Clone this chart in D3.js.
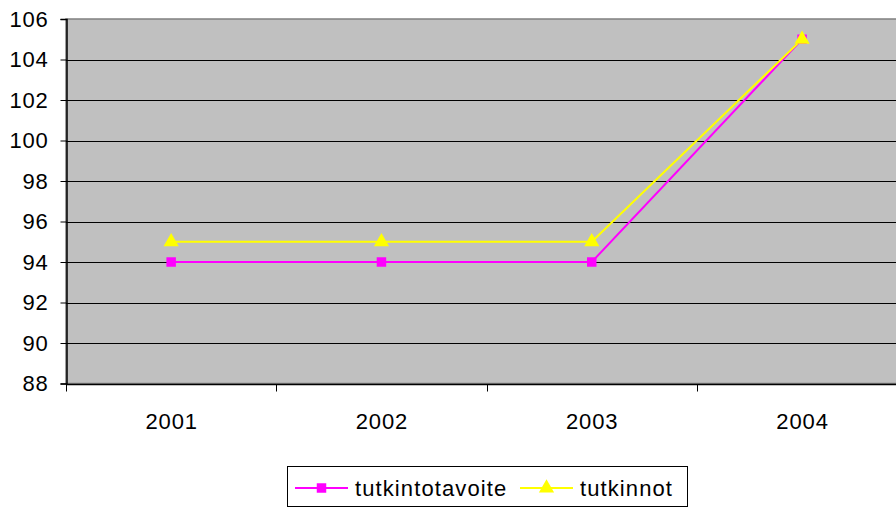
<!DOCTYPE html>
<html>
<head>
<meta charset="utf-8">
<script src="https://cdn.jsdelivr.net/npm/d3@7"></script>
<style>
  body { margin: 0; background: #fff; }
  svg { display: block; font-family: "Liberation Sans", Arial, sans-serif; }
</style>
</head>
<body>
<div id="chart"></div>
<script>
// chart values
const years = ['2001', '2002', '2003', '2004'];
const tavoite = [94, 94, 94, 105];    // tutkintotavoite
const tutkinnot = [95, 95, 95, 105];  // tutkinnot
const yTicks = [88, 90, 92, 94, 96, 98, 100, 102, 104, 106];

const width = 896, height = 507;
const margin = {top: 19, left: 66, bottom: 123};
const plotRight = 66 + 210.3 * 4;

const svg = d3.select('#chart').append('svg')
    .attr('width', width)
    .attr('height', height);

const x = d3.scaleBand()
    .domain(years)
    .range([margin.left, plotRight]);

const y = d3.scaleLinear()
    .domain([88, 106])
    .range([height - margin.bottom - 0.5, margin.top]);

// plot background
svg.append('rect')
    .attr('x', margin.left)
    .attr('y', margin.top)
    .attr('width', plotRight - margin.left)
    .attr('height', y(88) - margin.top)
    .attr('fill', '#c0c0c0')
    .attr('stroke', '#808080')
    .attr('stroke-width', 1.5);

// gridlines
svg.append('g')
  .selectAll('line')
  .data(yTicks.filter(d => d !== 88 && d !== 106))
  .enter().append('line')
    .attr('x1', margin.left)
    .attr('x2', plotRight)
    .attr('y1', d => Math.round(y(d)) + 0.5)
    .attr('y2', d => Math.round(y(d)) + 0.5)
    .attr('stroke', '#000')
    .attr('stroke-width', 1);

// y axis
const yAxis = svg.append('g')
    .attr('transform', `translate(${margin.left + 0.5},0)`)
    .call(d3.axisLeft(y).tickValues(yTicks).tickSize(6).tickPadding(12));
yAxis.select('.domain').attr('stroke', '#000').attr('stroke-width', 1.5);
yAxis.selectAll('.tick line').attr('stroke', '#000');
yAxis.selectAll('.tick text')
    .attr('fill', '#000')
    .style('font-size', '22px')
    .style('letter-spacing', '0.8px')
    .style('font-family', '"Liberation Sans", Arial, sans-serif');

// x axis with ticks at category boundaries
const xg = svg.append('g')
    .attr('transform', `translate(0,${Math.round(y(88)) + 0.5})`);
xg.append('line')
    .attr('x1', margin.left)
    .attr('x2', plotRight)
    .attr('stroke', '#000')
    .attr('stroke-width', 1.5);
xg.selectAll('line.tk')
  .data(years)
  .enter().append('line')
    .attr('class', 'tk')
    .attr('x1', d => Math.round(x(d)) + 0.5)
    .attr('x2', d => Math.round(x(d)) + 0.5)
    .attr('y1', 0)
    .attr('y2', 7)
    .attr('stroke', '#000');
xg.selectAll('text')
  .data(years)
  .enter().append('text')
    .attr('x', d => x(d) + x.bandwidth() / 2 + 0.5)
    .attr('y', 44)
    .attr('text-anchor', 'middle')
    .style('font-size', '22px')
    .style('letter-spacing', '0.9px')
    .text(d => d);

const cx = d => x(d) + x.bandwidth() / 2;
const line = d3.line()
    .x((d, i) => cx(years[i]))
    .y(d => y(d));

// tutkintotavoite
svg.append('path')
    .datum(tavoite)
    .attr('d', line)
    .attr('fill', 'none')
    .attr('stroke', '#ff00ff')
    .attr('stroke-width', 2);

// tutkinnot
svg.append('path')
    .datum(tutkinnot)
    .attr('d', line)
    .attr('fill', 'none')
    .attr('stroke', '#ffff00')
    .attr('stroke-width', 2);

const square = d3.symbol().type(d3.symbolSquare).size(90);
const triangle = d3.symbol().type(d3.symbolTriangle).size(100);

svg.append('g').selectAll('path')
  .data(tavoite)
  .enter().append('path')
    .attr('d', square)
    .attr('transform', (d, i) => `translate(${cx(years[i])},${y(d)})`)
    .attr('fill', '#ff00ff');

svg.append('g').selectAll('path')
  .data(tutkinnot)
  .enter().append('path')
    .attr('d', triangle)
    .attr('transform', (d, i) => `translate(${cx(years[i])},${y(d)})`)
    .attr('fill', '#ffff00');

// legend
const lg = svg.append('g');
lg.append('rect')
    .attr('x', 287.5)
    .attr('y', 466.5)
    .attr('width', 400)
    .attr('height', 40)
    .attr('fill', '#fff')
    .attr('stroke', '#000')
    .attr('stroke-width', 1);

const items = [
  {name: 'tutkintotavoite', color: '#ff00ff', sym: square, x: 295},
  {name: 'tutkinnot', color: '#ffff00', sym: triangle, x: 520}
];
const ly = 488;
items.forEach(it => {
  lg.append('line')
      .attr('x1', it.x)
      .attr('x2', it.x + 53)
      .attr('y1', ly)
      .attr('y2', ly)
      .attr('stroke', it.color)
      .attr('stroke-width', 2);
  lg.append('path')
      .attr('d', it.sym)
      .attr('transform', `translate(${it.x + 26.5},${ly})`)
      .attr('fill', it.color);
  lg.append('text')
      .attr('x', it.x + 60)
      .attr('y', ly + 8)
      .style('font-size', '22px')
      .style('letter-spacing', '1.1px')
      .text(it.name);
});
</script>
</body>
</html>
